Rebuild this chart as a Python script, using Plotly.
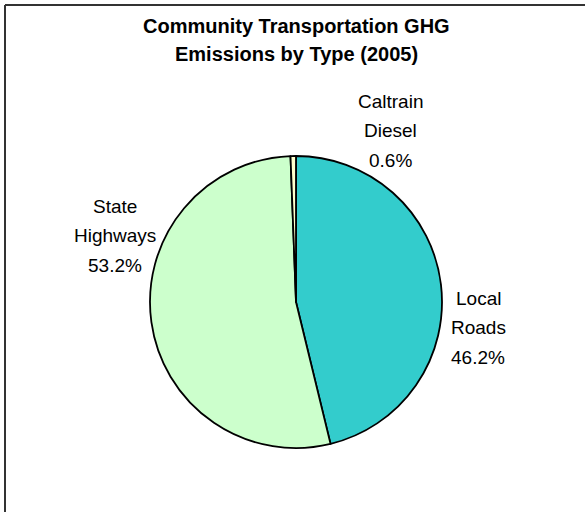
import plotly.graph_objects as go

# data
labels = ["Local Roads", "State Highways", "Caltrain Diesel"]
values = [46.2, 53.2, 0.6]
colors = ["#33CCCC", "#CCFFCC", "#FFFFCC"]
title_lines = ["Community Transportation GHG", "Emissions by Type (2005)"]

W, H = 585, 512
total = sum(values)

fig = go.Figure(go.Pie(
    labels=labels,
    values=values,
    sort=False,
    direction="clockwise",
    rotation=0,
    marker=dict(colors=colors, line=dict(color="black", width=1.8)),
    textinfo="none",
    hoverinfo="label+percent",
    showlegend=False,
    domain=dict(x=[150 / W, 442 / W], y=[(H - 448) / H, (H - 156) / H]),
))

annotations = []
# title, one annotation per line (Excel-like line spacing)
for i, line in enumerate(title_lines):
    annotations.append(dict(
        text=line, x=296 / W, y=1 - (26 + 28 * i) / H,
        xref="paper", yref="paper", showarrow=False,
        xanchor="center", yanchor="middle",
        font=dict(family="Liberation Sans", size=20, color="black", weight="bold"),
    ))

# outside data labels: label words + percentage, centre of each block in px
label_pos = {"Local Roads": (478, 298), "State Highways": (115, 206), "Caltrain Diesel": (390, 101)}
for lab, v in zip(labels, values):
    cx, cy = label_pos[lab]
    lines = lab.split(" ") + [f"{v / total * 100:.1f}%"]
    for i, line in enumerate(lines):
        annotations.append(dict(
            text=line, x=cx / W, y=1 - (cy + 29.5 * i) / H,
            xref="paper", yref="paper", showarrow=False,
            xanchor="center", yanchor="middle",
            font=dict(family="Liberation Sans", size=19, color="black"),
        ))

fig.update_layout(
    width=W, height=H,
    margin=dict(t=0, l=0, r=0, b=0),
    paper_bgcolor="white",
    plot_bgcolor="white",
    annotations=annotations,
    shapes=[
        dict(type="line", xref="paper", yref="paper",
             x0=5 / W, x1=1.02, y0=1 - 5 / H, y1=1 - 5 / H,
             line=dict(color="#333333", width=2)),
        dict(type="line", xref="paper", yref="paper",
             x0=5 / W, x1=5 / W, y0=-0.02, y1=1 - 5 / H,
             line=dict(color="#333333", width=2)),
    ],
)

# drop the browser's default 8px body margin so the figure sits at (0, 0)
fig.write_html("out.html", config={"displayModeBar": False},
               post_script="document.body.style.margin = '0';")
